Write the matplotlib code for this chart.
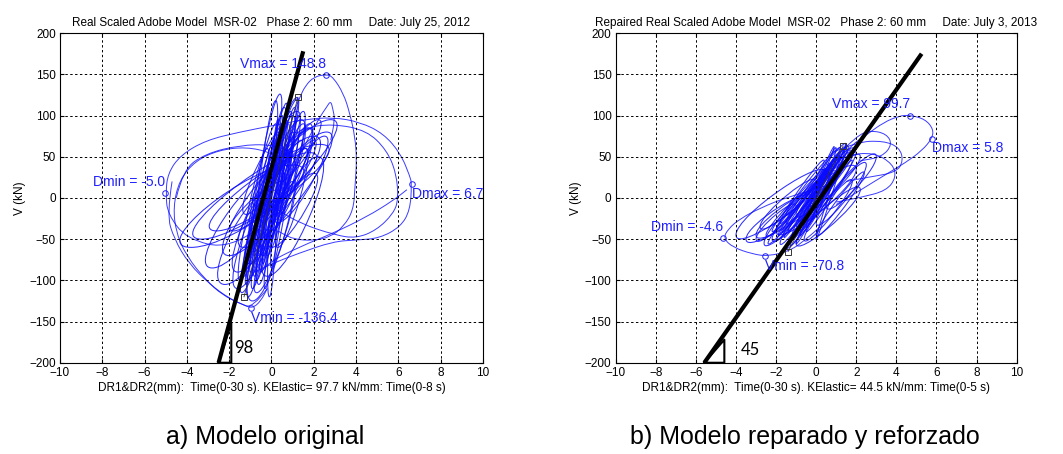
import numpy as np
import matplotlib
matplotlib.use("Agg")
import matplotlib.pyplot as plt
from matplotlib.path import Path
from matplotlib.patches import PathPatch

plt.rcParams['font.family'] = ['Liberation Sans', 'DejaVu Sans']

# ---------------- data: panel a (original model) ----------------
# core loops: lower tip (ax, ay), upper tip (bx, by), half-width (mx, my)
a_core_ax = [-1.4, -1.1, -0.8, -0.6, -1.0, -0.4, -1.6, -2.0, -0.3, -0.7, -2.6, -1.6, -3.3,
             -0.9, -2.8, -0.2, -1.3, -0.5, -1.8, 0.0, -2.2, -0.1, -1.2, -3.8, -0.6, 0.3,
             -1.2, -0.9, -1.0, -0.7, -1.3, -0.5, -0.8, -1.1, -0.4, -0.6, -1.5, -0.2,
             -0.9, -1.1, 0.1, -0.3, 0.2, 0.5, -0.4, 0.3, -1.0, -0.7, 0.0, -0.1,
             -1.2, -0.8, 0.4, 0.6, -0.3, 0.0]
a_core_ay = [-115, -100, -95, -105, -80, -70, -90, -70, -50, -30, -40, -110, -50,
             -125, -85, -95, -60, -20, -40, -60, -105, -120, -20, -60, -10, -30,
             -105, -110, -90, -100, -95, -90, -70, -80, -80, -60, -100, -70,
             -50, -120, -40, -110, -20, 0, -30, -60, -40, -115, -85, 10,
             -75, -65, 20, 10, -45, -15]
a_core_bx = [1.2, 0.4, 0.2, 0.6, 1.4, 1.0, 1.7, 2.0, 0.9, 0.8, 1.8, 0.6, 2.3,
             0.9, 0.3, 2.2, 2.6, 1.6, 0.5, 2.0, 0.0, 0.3, 1.2, 1.0, 2.8, 2.5,
             0.7, 0.9, 0.5, 0.8, 0.3, 1.1, 0.6, 0.1, 0.5, 1.2, -0.2, 1.3,
             0.7, 0.2, 1.5, 0.6, 1.8, 2.0, 1.4, 1.6, 0.2, 1.0, 0.9, 1.2,
             0.4, 0.8, 2.2, 1.8, 1.0, 1.5]
a_core_by = [122, 126, 118, 110, 95, 100, 85, 75, 70, 55, 55, 40, 65,
             50, 35, 50, 80, 60, 20, 30, 10, 95, 105, 40, 95, 75,
             115, 105, 100, 90, 80, 110, 90, 70, 70, 80, 60, 100,
             95, 40, 105, 30, 90, 70, 70, 60, 90, 20, 60, 120,
             45, 55, 95, 85, 80, 90]
a_core_mx = [0.45, 0.35, 0.3, 0.35, 0.7, 0.4, 0.9, 1.1, 0.25, 0.3, 1.2, 0.7, 1.5,
             0.7, 1.0, 0.8, 1.0, 0.5, 0.6, 0.6, 0.9, 0.2, 0.6, 1.6, 1.0, 0.6,
             0.25, 0.3, 0.2, 0.25, 0.3, 0.3, 0.2, 0.2, 0.15, 0.35, 0.3, 0.3,
             0.3, 0.3, 0.35, 0.2, 0.45, 0.4, 0.35, 0.4, 0.25, 0.45, 0.2, 0.25,
             0.3, 0.25, 0.5, 0.45, 0.3, 0.35]
a_core_my = [0] * 56

# large traced loops (x in mm, y in kN)
a_loop1_x = [-0.8, -2.0, -4.0, -4.9, -5.0, -4.9, -4.3, -3.1, -1.5, 0.1, 1.5, 2.9, 4.2, 5.3,
             6.1, 6.55, 6.63, 6.55, 6.1, 5.1, 4.0, 2.9, 1.3, 0.0, -0.8]
a_loop1_y = [-40, -62, -50, -20, 5, 30, 52, 70, 80, 88, 95, 98, 92, 78,
             54, 26, 17, -15, -35, -49, -51, -53, -67, -80, -90]
a_loop2_x = [-0.2, -0.9, -1.5, -2.3, -3.1, -4.0, -4.5, -4.65, -4.35, -3.6, -2.5, -1.2, 0.0, 0.8]
a_loop2_y = [-110, -134, -128, -118, -100, -71, -43, -11, 22, 45, 58, 62, 55, 40]
a_loop3_x = [-4.7, -4.95, -4.6, -3.9, -2.9, -2.0, -1.3, -0.9, -0.5, -0.2]
a_loop3_y = [20, -20, -50, -80, -105, -122, -130, -134, -125, -110]
a_loop4_x = [0.6, 1.0, 1.35, 1.6, 2.0, 2.6, 2.9, 3.4, 3.7, 3.95, 4.03, 3.95, 3.87, 3.4, 2.8, 2.0, 1.0, 0.3]
a_loop4_y = [60, 100, 123, 136, 147, 150, 147, 127, 103, 74, 46, 14, -15, -35, -47, -52, -50, -40]
a_loop5_x = [1.5, 2.2, 2.6, 2.8, 2.9, 3.0, 2.8]
a_loop5_y = [60, 95, 110, 118, 108, 95, 70]
a_loop6_x = [0.5, 1.5, 2.9, 4.5, 5.45, 5.9, 6.0, 5.76, 4.97, 4.0, 3.0, 1.35, 0.0]
a_loop6_y = [60, 85, 90, 82, 58, 30, -2, -19, -39, -49, -45, -31, -10]
a_loop7_x = [-0.5, -0.2, 1.35, 2.9, 4.5, 5.76, 6.4]
a_loop7_y = [-90, -79, -59, -43, -23, -3, 10]
a_loop8_x = [-4.5, -4.2, -3.1, -1.5, 0.0, 1.0]
a_loop8_y = [0, 34, 54, 64, 65, 55]

# ---------------- data: panel b (repaired model) ----------------
b_core_ax = [-1.8, -1.2, -2.2, -0.8, -2.6, -1.0, -0.5, -3.0, -3.5, -1.5, 0.0, -2.0, -0.3,
             -1.5, -2.8, -0.6, -4.0, 0.5, -1.0, 0.0,
             -2.0, -1.6, -1.4, -1.9, -1.2, -1.0, -0.8, -2.2, -1.5, -0.5, -2.4, -0.2,
             -1.8, -1.0, 0.2, -2.5, -0.6, -1.3, 0.0, -3.0,
             -1.7, -0.9, -0.4, -1.1]
b_core_ay = [-55, -45, -50, -40, -55, -20, -35, -45, -50, -30, -30, -40, -10,
             -60, -35, -50, -45, -10, -55, -50,
             -52, -48, -40, -45, -50, -35, -45, -40, -20, -40, -55, -25,
             -30, -55, -10, -45, -20, -58, -45, -50,
             -42, -28, -15, -48]
b_core_bx = [1.6, 1.2, 1.9, 1.0, 1.0, 2.2, 0.8, 0.5, -0.2, 1.5, 2.5, 2.0, 1.0,
             0.3, 0.0, 1.8, 0.5, 3.0, 2.2, 1.5,
             1.4, 1.2, 1.0, 0.8, 1.5, 1.0, 1.3, 0.5, 1.2, 1.8, 0.2, 1.6,
             0.4, 0.8, 2.0, -0.5, 0.9, 0.0, 2.4, -1.0,
             1.1, 1.4, 1.7, 0.6]
b_core_by = [62, 55, 58, 48, 30, 50, 40, 10, 0, 65, 40, 35, 60,
             -5, 20, 20, 30, 50, 10, 65,
             58, 50, 45, 40, 45, 30, 40, 35, 60, 45, 20, 55,
             45, 25, 55, 5, 62, -10, 30, -10,
             52, 50, 58, 35]
b_core_mx = [0] * 44
b_core_my = [12, 10, 16, 8, 15, 14, 8, 14, 14, 10, 14, 18, 8,
             8, 12, 12, 18, 14, 14, 6,
             6, 5, 5, 6, 7, 4, 6, 7, 8, 8, 8, 6,
             8, 6, 8, 8, 5, 5, 10, 10,
             5, 6, 6, 5]

b_loop1_x = [1.0, 1.8, 2.56, 3.36, 4.15, 4.68, 5.43, 5.85, 5.78, 5.27, 4.47, 3.51, 2.56, 1.76, 1.0]
b_loop1_y = [45, 65, 77.5, 91.6, 99.7, 100.5, 95.7, 83.5, 72, 57.3, 43.1, 29, 14.9, 2.7, -8]
b_loop2_x = [0.8, 2.0, 3.36, 4.15, 4.35, 4.0, 2.56, 1.5]
b_loop2_y = [55, 68, 69.4, 61.3, 45.2, 31, 25, 20]
b_loop3_x = [0.5, 1.5, 2.88, 3.83, 3.99, 3.51, 2.24, 1.0]
b_loop3_y = [40, 52, 55.3, 41.1, 25, 8.8, 0.7, -5]
b_loop4_x = [-0.3, -1.44, -2.72, -3.83, -4.4, -4.63, -4.15, -3.19, -2.4, -1.28, -0.5, 0.2]
b_loop4_y = [9, 1, -11.4, -25.6, -38, -49, -60, -68, -70.8, -64, -50, -35]
b_loop5_x = [1.2, 2.0, 2.7, 3.5, 3.8, 3.3, 2.2]
b_loop5_y = [55, 75, 82, 78, 65, 50, 45]

# stiffness lines, triangles, peaks
a_kline_x = [-2.5, 1.5]
a_kline_y = [-200, 178]
b_kline_x = [-5.58, 5.26]
b_kline_y = [-200, 175]
a_tri_x = [-2.5, -1.9, -1.9]
a_tri_y = [-200, -200, -152]
b_tri_x = [-5.58, -4.58, -4.58]
b_tri_y = [-200, -200, -172]
a_sq_x = [1.25, -1.3]
a_sq_y = [122, -120]
b_sq_x = [1.35, -1.4]
b_sq_y = [63, -65]

a_peaks = {'Vmax': (2.6, 148.8, 'Vmax = 148.8'), 'Vmin': (-0.95, -134, 'Vmin = -136.4'),
           'Dmax': (6.63, 17, 'Dmax = 6.7'), 'Dmin': (-5.05, 6, 'Dmin = -5.0')}
b_peaks = {'Vmax': (4.68, 100, 'Vmax = 99.7'), 'Vmin': (-2.55, -70.8, 'Vmin = -70.8'),
           'Dmax': (5.78, 72, 'Dmax = 5.8'), 'Dmin': (-4.63, -49, 'Dmin = -4.6')}

BLUE = '#0a0aff'


def loop_patch(ax0, ay0, bx0, by0, mx, my):
    k = 4.0 / 3.0
    verts = [(ax0, ay0), (ax0 + k*mx, ay0 - k*my), (bx0 + k*mx, by0 - k*my), (bx0, by0),
             (bx0 - k*mx, by0 + k*my), (ax0 - k*mx, ay0 + k*my), (ax0, ay0)]
    codes = [Path.MOVETO] + [Path.CURVE4] * 6
    return PathPatch(Path(verts, codes), fill=False, ec=BLUE, lw=0.75, alpha=0.85)


def smooth_patch(xs, ys):
    pts = list(zip(xs, ys))
    verts = [pts[0]]
    codes = [Path.MOVETO]
    for i in range(1, len(pts) - 1):
        mid = ((pts[i][0] + pts[i+1][0]) / 2, (pts[i][1] + pts[i+1][1]) / 2)
        verts += [pts[i], mid]
        codes += [Path.CURVE3, Path.CURVE3]
    verts.append(pts[-1])
    codes.append(Path.LINETO)
    return PathPatch(Path(verts, codes), fill=False, ec=BLUE, lw=0.7, alpha=0.8)


fig = plt.figure(figsize=(10.63, 4.54), dpi=100)
axa = fig.add_axes([0.0564, 0.201, 0.398, 0.726])
axb = fig.add_axes([0.5792, 0.201, 0.3772, 0.726])

panels = [
    (axa, (a_core_ax, a_core_ay, a_core_bx, a_core_by, a_core_mx, a_core_my),
     [(a_loop1_x, a_loop1_y), (a_loop2_x, a_loop2_y), (a_loop3_x, a_loop3_y), (a_loop4_x, a_loop4_y),
      (a_loop5_x, a_loop5_y), (a_loop6_x, a_loop6_y), (a_loop7_x, a_loop7_y), (a_loop8_x, a_loop8_y)],
     a_kline_x, a_kline_y, a_tri_x, a_tri_y, a_sq_x, a_sq_y, a_peaks,
     'Real Scaled Adobe Model  MSR-02   Phase 2: 60 mm     Date: July 25, 2012',
     'DR1&DR2(mm):  Time(0-30 s). KElastic= 97.7 kN/mm: Time(0-8 s)', '98', (-1.75, -182)),
    (axb, (b_core_ax, b_core_ay, b_core_bx, b_core_by, b_core_mx, b_core_my),
     [(b_loop1_x, b_loop1_y), (b_loop2_x, b_loop2_y), (b_loop3_x, b_loop3_y), (b_loop4_x, b_loop4_y),
      (b_loop5_x, b_loop5_y)],
     b_kline_x, b_kline_y, b_tri_x, b_tri_y, b_sq_x, b_sq_y, b_peaks,
     'Repaired Real Scaled Adobe Model  MSR-02   Phase 2: 60 mm     Date: July 3, 2013',
     'DR1&DR2(mm):  Time(0-30 s). KElastic= 44.5 kN/mm: Time(0-5 s)', '45', (-3.75, -185)),
]

for ax, core, loops, kx, ky, tx, ty, sx, sy, peaks, title, xlab, klab, kpos in panels:
    for vals in zip(*core):
        ax.add_patch(loop_patch(*vals))
    for xs, ys in loops:
        ax.add_patch(smooth_patch(xs, ys))
    ax.plot(sx, sy, color='#333333', lw=0.6)
    ax.plot(sx, sy, 's', mfc='none', mec='#333333', ms=4, mew=0.7)
    ax.plot(kx, ky, color='black', lw=3, solid_capstyle='butt')
    ax.plot(tx + [tx[0]], ty + [ty[0]], color='black', lw=1.5)
    ax.text(kpos[0], kpos[1], klab, fontsize=12, family=['Lato', 'DejaVu Sans'], va='center')

    for key, (px, py, lab) in peaks.items():
        ax.plot(px, py, 'o', mfc='none', mec='#2020ff', ms=4, mew=0.7)
        if key in ('Vmax', 'Dmin'):
            ax.annotate(lab, (px, py), xytext=(0, 8), textcoords='offset points',
                        ha='right', va='center', color='#2020ff', fontsize=10)
        else:
            ax.annotate(lab, (px, py), xytext=(0, -7), textcoords='offset points',
                        ha='left', va='center', color='#2020ff', fontsize=10)

    ax.set_xlim(-10, 10)
    ax.set_ylim(-200, 200)
    ax.set_xticks(np.arange(-10, 11, 2))
    ax.set_yticks(np.arange(-200, 201, 50))
    ax.grid(True, color='black', linestyle=(0, (2.5, 2.5)), linewidth=0.7)
    ax.tick_params(direction='in', top=True, right=True, labelsize=8.5, length=3, pad=3)
    for s in ax.spines.values():
        s.set_linewidth(0.8)
    ax.set_title(title, fontsize=8.5, pad=5)
    ax.set_xlabel(xlab, fontsize=8.5, labelpad=2)
    ax.set_ylabel('V (kN)', fontsize=8.5, labelpad=2)

fig.text(0.249, 0.037, 'a) Modelo original', fontsize=18, ha='center', va='center',
         family=['Liberation Sans Narrow', 'Liberation Sans'])
fig.text(0.757, 0.037, 'b) Modelo reparado y reforzado', fontsize=18, ha='center', va='center',
         family=['Liberation Sans Narrow', 'Liberation Sans'])

fig.savefig('out.png', dpi=100)
